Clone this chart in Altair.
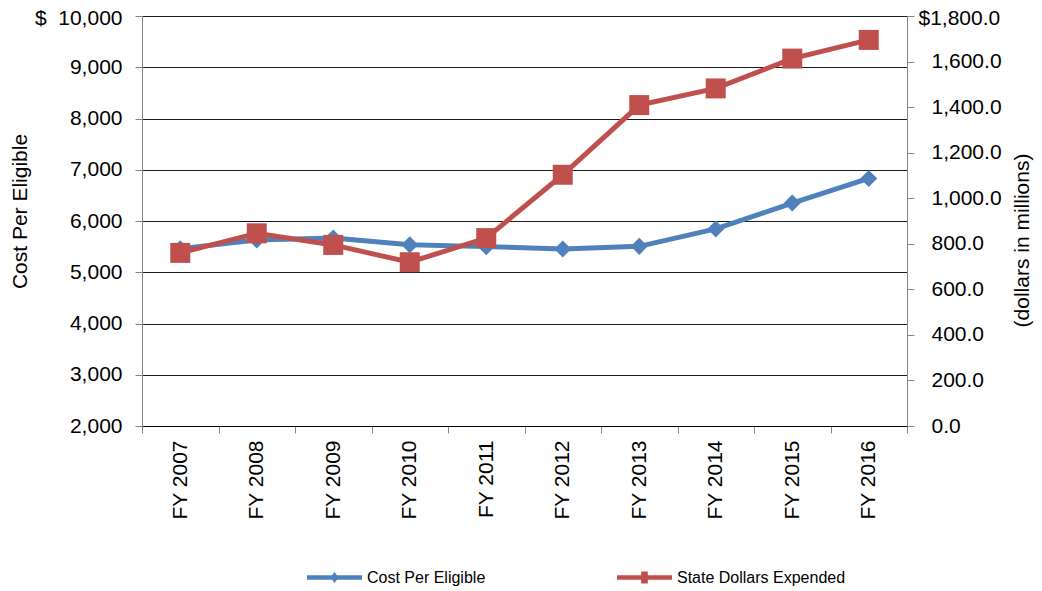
import altair as alt
import pandas as pd

years = ["FY 2007", "FY 2008", "FY 2009", "FY 2010", "FY 2011",
         "FY 2012", "FY 2013", "FY 2014", "FY 2015", "FY 2016"]
cost_per_eligible = [5460, 5630, 5670, 5535, 5500, 5455, 5505, 5845, 6350, 6830]
state_dollars = [760, 846, 795, 719, 825, 1103, 1409, 1482, 1613, 1695]
left_ticks = [2000, 3000, 4000, 5000, 6000, 7000, 8000, 9000, 10000]
right_ticks = [0, 200, 400, 600, 800, 1000, 1200, 1400, 1600, 1800]

df = pd.DataFrame({
    "year": years,
    "cost": cost_per_eligible,
    "dollars": state_dollars,
    "s1": ["Cost Per Eligible"] * len(years),
    "s2": ["State Dollars Expended"] * len(years),
})

FONT = "Liberation Sans"
BLUE = "#4F81BD"
RED = "#C0504D"
AXIS_GRAY = "#868686"
FS = 21

x = alt.X(
    "year:N", sort=years, bandPosition=0.5,
    scale=alt.Scale(type="band", paddingInner=0, paddingOuter=0),
    axis=alt.Axis(title=None, labelAngle=270, labelFont=FONT, labelFontSize=FS,
                  labelColor="#000", tickBand="extent", domainColor="#000",
                  tickColor=AXIS_GRAY, tickSize=7, labelPadding=7, grid=False),
)

y_left = alt.Y(
    "cost:Q",
    scale=alt.Scale(domain=[2000, 10000], nice=False, zero=False),
    axis=alt.Axis(
        orient="left", values=left_ticks,
        labelExpr="datum.value == 10000 ? '$\u00a0\u00a010,000' : format(datum.value, ',')",
        labelOffset={"condition": {"test": "datum.value == 10000", "value": 2}, "value": 0},
        grid=True, gridColor="#1a1a1a", gridWidth=1,
        domainColor=AXIS_GRAY, tickColor=AXIS_GRAY, tickSize=7,
        labelPadding=13, labelFont=FONT, labelFontSize=FS, labelColor="#000",
        title="Cost Per Eligible", titleFont=FONT, titleFontSize=FS,
        titleFontWeight="normal", titleColor="#000", titlePadding=4, titleY=195,
    ),
)

y_right = alt.Y(
    "dollars:Q",
    scale=alt.Scale(domain=[0, 1800], nice=False),
    axis=alt.Axis(
        orient="right", values=right_ticks,
        labelExpr="datum.value == 1800 ? '$1,800.0' : format(datum.value, ',.1f')",
        labelPadding={"condition": {"test": "datum.value == 1800", "value": 4}, "value": 17},
        labelOffset={"condition": {"test": "datum.value == 1800", "value": 2}, "value": 0},
        grid=False, domainColor=AXIS_GRAY, tickColor=AXIS_GRAY, tickSize=7,
        labelFont=FONT, labelFontSize=FS, labelColor="#000",
        title="(dollars in millions)", titleFont=FONT, titleFontSize=FS,
        titleFontWeight="normal", titleColor="#000", titleAngle=270,
        titlePadding=31, titleY=224,
    ),
)

base = alt.Chart(df)

blue_line = base.mark_line(color=BLUE, strokeWidth=5).encode(x=x, y=y_left)
blue_pts = base.mark_point(filled=True, shape="diamond", size=290, opacity=1).encode(
    x=x, y=y_left,
    color=alt.Color("s1:N", scale=alt.Scale(domain=["Cost Per Eligible"], range=[BLUE]),
                    legend=alt.Legend(
                        title=None, orient="none", legendX=165, legendY=534,
                        padding=0, symbolSize=3025,
                        symbolType="M-1,-0.085H1V0.085H-1Z M0,-0.2L0.15,0L0,0.2L-0.15,0Z",
                        symbolStrokeWidth=0, labelFont=FONT, labelFontSize=16,
                        labelColor="#000", labelOffset=5, labelLimit=400)),
)

red_line = base.mark_line(color=RED, strokeWidth=5).encode(x=x, y=y_right)
red_pts = base.mark_point(filled=True, shape="square", size=400, opacity=1).encode(
    x=x, y=y_right,
    color=alt.Color("s2:N", scale=alt.Scale(domain=["State Dollars Expended"], range=[RED]),
                    legend=alt.Legend(
                        title=None, orient="none", legendX=475, legendY=534,
                        padding=0, symbolSize=3025,
                        symbolType="M-1,-0.085H1V0.085H-1Z M-0.12,-0.22H0.12V0.22H-0.12Z",
                        symbolStrokeWidth=0, labelFont=FONT, labelFontSize=16,
                        labelColor="#000", labelOffset=5, labelLimit=400)),
)

blue = alt.layer(blue_line, blue_pts)
red = alt.layer(red_line, red_pts)

chart = alt.layer(blue, red).resolve_scale(
    y="independent", color="independent"
).properties(
    width=765, height=410,
    padding={"left": 134, "top": 8, "right": 127, "bottom": 165},
    autosize=alt.AutoSizeParams(type="none"),
    background="white",
).configure_view(stroke=None)

chart.save("out.html", embed_options={"renderer": "svg", "actions": False})
